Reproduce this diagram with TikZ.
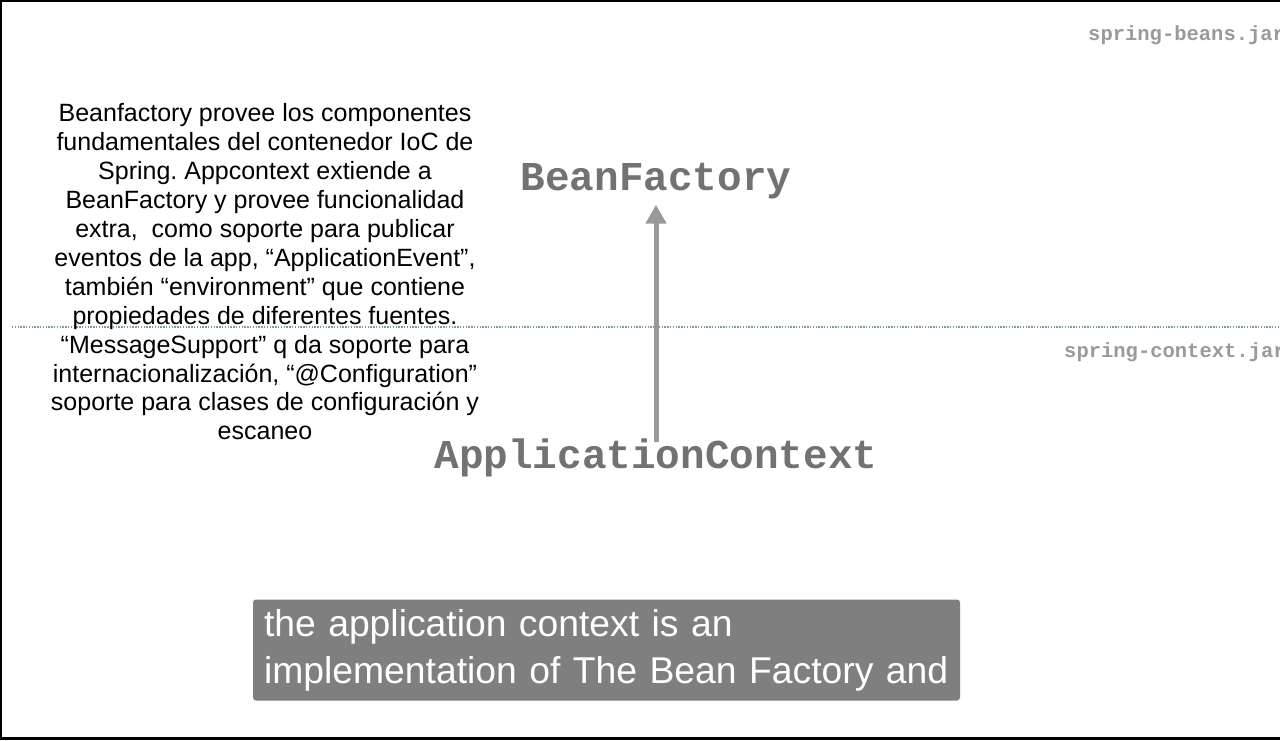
\documentclass[tikz,border=0pt]{standalone}
\usepackage{fontspec}
\setmainfont{Liberation Sans}
\newfontfamily\codefont{Liberation Mono}
\usetikzlibrary{positioning,arrows.meta}
\definecolor{classgray}{HTML}{727272}
\definecolor{jargray}{HTML}{9A9A9A}
\definecolor{arrowgray}{HTML}{999999}
\definecolor{capgray}{HTML}{7F7F7F}
\definecolor{sepgreen}{HTML}{7FA07F}
\frenchspacing

\begin{document}
\begin{tikzpicture}[
		x=1pt, y=-1pt,
		classname/.style={inner sep=0pt, anchor=base, text=classgray, font=\codefont\bfseries\fontsize{41}{41}\selectfont},
		jarname/.style={inner sep=0pt, anchor=base west, text=jargray, font=\codefont\bfseries\fontsize{20.5}{20.5}\selectfont},
		note/.style={inner sep=0pt, align=center, font=\fontsize{25}{28.9}\selectfont},
		caption/.style={fill=capgray, rounded corners=3pt, text=white, align=left, inner sep=0pt,
			minimum width=707pt, minimum height=101pt, text width=685pt, font=\fontsize{37.3}{47}\selectfont},
		extends/.style={-{Triangle[width=20pt,length=19pt]}, line width=5pt, arrowgray},
		layer/.style={sepgreen, line width=1.4pt, dash pattern=on 1.4pt off 1.4pt}
		]
		\useasboundingbox (0,0) rectangle (1280,740);
		\fill[white] (0,0) rectangle (1280,740);
		
		% frame of the slide
		\draw[line width=2.5pt, black] (1280,1) -- (1.2,1) -- (1.2,738.5) -- (1280,738.5);
		
		% jar layers
		\node[jarname] (beansjar) at (1088,40) {spring-beans.jar};
		\node[jarname] (contextjar) at (1064,357) {spring-context.jar};
		\coordinate (sepl) at (12,327);
		\coordinate (sepr) at (1280,327);
		\draw[layer] (sepl) -- (sepr);
		
		% classes
		\node[classname] (bf) at (656,190) {BeanFactory};
		\node[classname] (ac) at (656,468) {ApplicationContext};
		\draw[extends, shorten >=6pt, shorten <=-4pt] (ac.north) -- (bf.south);
		
		% explanation
		\node[note] (expl) at (265,272) {%
			Beanfactory provee los componentes\\
			fundamentales del contenedor IoC de\\
			Spring. Appcontext extiende a\\
			BeanFactory y provee funcionalidad\\
			extra,~ como soporte para publicar\\
			eventos de la app, “ApplicationEvent”,\\
			también “environment” que contiene\\
			propiedades de diferentes fuentes.\\
			“MessageSupport” q da soporte para\\
			internacionalización, “@Configuration”\\
			soporte para clases de configuración y\\
			escaneo};
		
		% subtitle
		\node[caption] (sub) at (606.5,650) {the application context is an\\implementation of The Bean Factory and};
		
	\end{tikzpicture}
\end{document}
